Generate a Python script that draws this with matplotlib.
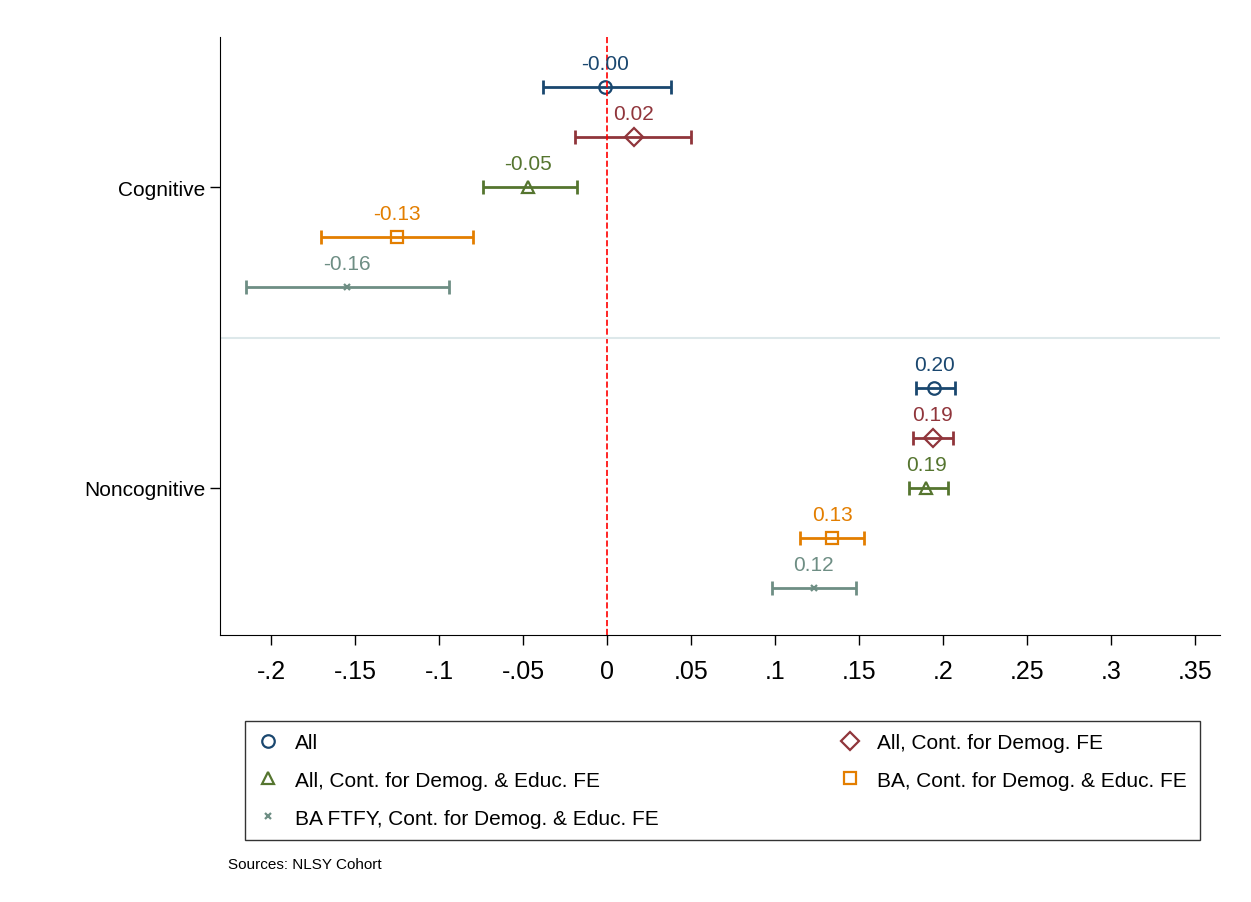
import matplotlib.pyplot as plt
plt.rcParams['font.family'] = ['Liberation Sans', 'DejaVu Sans']

series = ["All", "All, Cont. for Demog. FE", "All, Cont. for Demog. & Educ. FE",
          "BA, Cont. for Demog. & Educ. FE", "BA FTFY, Cont. for Demog. & Educ. FE"]
colors = ["#1a476f", "#90353b", "#55752f", "#e37e00", "#6e8e84"]
markers = ["o", "D", "^", "s", "x"]
cog_est = [-0.001, 0.016, -0.047, -0.125, -0.155]
cog_lo = [-0.038, -0.019, -0.074, -0.170, -0.215]
cog_hi = [0.038, 0.050, -0.018, -0.080, -0.094]
cog_lab = ["-0.00", "0.02", "-0.05", "-0.13", "-0.16"]
non_est = [0.195, 0.194, 0.190, 0.134, 0.123]
non_lo = [0.184, 0.182, 0.180, 0.115, 0.098]
non_hi = [0.207, 0.206, 0.203, 0.153, 0.148]
non_lab = ["0.20", "0.19", "0.19", "0.13", "0.12"]

fig = plt.figure(figsize=(12.51, 9.03), dpi=100)
ax = fig.add_axes([220/1251, 1-636/903, 1000/1251, 598/903])
ypos_c = [88, 138, 188, 238, 288]
ypos_n = [389, 439, 489, 539, 589]
for i in range(5):
    for est, lo, hi, lab, y in [(cog_est, cog_lo, cog_hi, cog_lab, ypos_c[i]),
                                (non_est, non_lo, non_hi, non_lab, ypos_n[i])]:
        ax.errorbar(est[i], y, xerr=[[est[i]-lo[i]], [hi[i]-est[i]]], fmt='none',
                    ecolor=colors[i], elinewidth=2, capsize=5, capthick=2)
        ax.plot(est[i], y, marker=markers[i], mfc='none', mec=colors[i], mew=1.6,
                ms=9 if markers[i] != 'x' else 5, ls='none',
                label=series[i] if y == ypos_c[i] else None)
        ax.text(est[i], y-14, lab[i], color=colors[i], ha='center', va='bottom', fontsize=15)
ax.axvline(0, color='red', ls='--', lw=1.2)
ax.axhline(339, color='#dde8ea', lw=1.5)
ax.set_ylim(636, 38)
ax.set_xlim(-0.2304, 0.365)
xt = [-0.2, -0.15, -0.1, -0.05, 0, 0.05, 0.1, 0.15, 0.2, 0.25, 0.3, 0.35]
ax.set_xticks(xt)
ax.set_xticklabels(["-.2", "-.15", "-.1", "-.05", "0", ".05", ".1", ".15", ".2", ".25", ".3", ".35"], fontsize=18)
ax.set_yticks([188, 489])
ax.set_yticklabels(["Cognitive", "Noncognitive"], fontsize=15)
ax.tick_params(length=7, width=1)
ax.tick_params(axis='x', pad=10)
for s in ['top', 'right']:
    ax.spines[s].set_visible(False)
handles, labels = ax.get_legend_handles_labels()
order = [0, 2, 4, 1, 3]
leg = fig.legend([handles[i] for i in order], [labels[i] for i in order], ncol=2,
                 loc='upper left', bbox_to_anchor=(235/1251, 1-712/903, 975/1251, 0.001),
                 mode='expand', fontsize=15, frameon=True, fancybox=False,
                 edgecolor='black', handlelength=1, columnspacing=2, borderpad=0.6,
                 labelspacing=0.9)
leg.get_frame().set_linewidth(1)
fig.text(228/1251, 1-865/903, "Sources: NLSY Cohort", fontsize=11, va='center')
fig.savefig("out.png")
